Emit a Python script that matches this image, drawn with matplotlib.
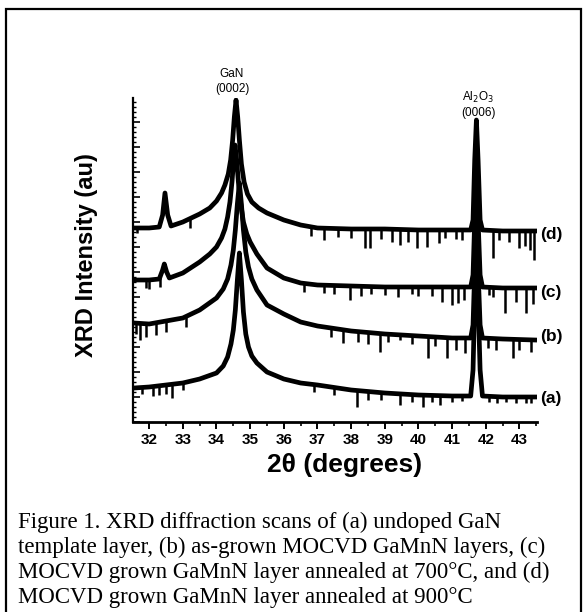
import numpy as np
import matplotlib
matplotlib.use("Agg")
import matplotlib.pyplot as plt
from matplotlib.patches import Rectangle
from matplotlib.ticker import MultipleLocator

# XRD scans (intensity in arbitrary units, curves already offset)
x_d = [31.55, 32.0, 32.3, 32.4, 32.47, 32.55, 32.65, 33.0, 33.5, 33.8, 34.0, 34.15, 34.25,
       34.35, 34.42, 34.48, 34.53, 34.58, 34.63, 34.68, 34.74, 34.82, 34.92, 35.05, 35.25,
       35.5, 36.0, 36.5, 37.0, 38.0, 39.0, 40.0, 41.0, 41.55, 41.62, 41.67, 41.72, 41.77,
       41.83, 41.9, 42.5, 43.45]
y_d = [194, 194, 195, 207, 229, 207, 196, 200, 208, 214, 221, 229, 237,
       248, 262, 282, 305, 322, 305, 282, 258, 240, 228, 220, 214,
       209, 202, 197, 194, 193, 193, 192, 192, 192, 202, 262, 302, 262,
       202, 192, 191, 191]

x_c = [31.55, 32.0, 32.3, 32.4, 32.45, 32.52, 32.6, 33.0, 33.5, 33.8, 34.0, 34.15, 34.25,
       34.33, 34.4, 34.46, 34.51, 34.55, 34.6, 34.65, 34.72, 34.8, 34.9, 35.0, 35.2, 35.5,
       36.0, 36.5, 37.0, 38.0, 39.0, 40.0, 41.0, 41.55, 41.62, 41.67, 41.72, 41.77, 41.83,
       41.9, 42.5, 43.45]
y_c = [142, 142, 143, 152, 158, 150, 144, 149, 160, 168, 175, 184, 193,
       205, 220, 240, 262, 277, 262, 240, 218, 200, 188, 180, 168, 154,
       144, 139, 137, 136, 135, 135, 135, 135, 147, 202, 252, 202, 147,
       135, 134, 134]

x_b = [31.55, 32.0, 33.0, 33.5, 34.0, 34.2, 34.33, 34.43, 34.5, 34.56, 34.62, 34.68, 34.74,
       34.8, 34.87, 34.95, 35.05, 35.2, 35.5, 36.0, 36.5, 37.0, 38.0, 39.0, 40.0, 41.0,
       41.55, 41.62, 41.67, 41.72, 41.77, 41.83, 41.9, 42.5, 43.45]
y_b = [99, 98, 104, 112, 124, 133, 143, 157, 172, 192, 218, 239, 218,
       192, 170, 155, 143, 132, 117, 108, 100, 96, 91, 88, 86, 84,
       84, 97, 152, 207, 152, 97, 84, 83, 82]

x_a = [31.55, 32.0, 33.0, 33.5, 34.0, 34.2, 34.33, 34.43, 34.5, 34.56, 34.62, 34.68, 34.74,
       34.8, 34.87, 34.95, 35.05, 35.2, 35.5, 36.0, 36.5, 37.0, 38.0, 39.0, 40.0, 41.0,
       41.55, 41.62, 41.67, 41.72, 41.77, 41.83, 41.9, 42.5, 43.45]
y_a = [34, 35, 39, 43, 49, 56, 65, 78, 92, 112, 142, 169, 142,
       110, 88, 75, 66, 59, 50, 43, 39, 37, 32, 29, 27, 26,
       26, 52, 122, 167, 122, 52, 26, 25, 25]

# downward noise spikes: position and lowest value
spike_x_d = [31.64, 33.2, 36.8, 37.2, 37.6, 38.0, 38.41, 38.56, 38.9, 39.2, 39.45, 39.7, 39.95,
             40.25, 40.6, 40.8, 41.1, 41.3, 42.2, 42.4, 42.7, 43.0, 43.15, 43.3, 43.42]
spike_y_d = [189, 194, 186, 182, 185, 184, 174, 174, 183, 180, 177, 180, 174,
             175, 179, 184, 183, 182, 164, 182, 180, 174, 176, 172, 162]
spike_x_c = [31.9, 32.0, 32.33, 36.6, 37.2, 37.5, 37.96, 38.3, 38.6, 39.0, 39.4, 39.8, 40.0,
             40.4, 40.7, 40.99, 41.17, 41.35, 42.1, 42.2, 42.56, 42.9, 43.2, 43.4]
spike_y_c = [134, 133, 135, 130, 129, 128, 122, 126, 128, 127, 125, 128, 126,
             126, 120, 117, 119, 122, 127, 125, 109, 120, 109, 118]
spike_x_b = [31.6, 31.73, 31.9, 32.2, 32.5, 33.1, 37.4, 37.76, 38.2, 38.5, 38.85, 39.1, 39.45,
             39.8, 40.28, 40.5, 40.84, 41.1, 41.38, 42.05, 42.3, 42.8, 43.0, 43.35]
spike_y_b = [88, 82, 85, 87, 90, 95, 85, 79, 80, 78, 70, 80, 82,
             78, 64, 76, 64, 72, 69, 74, 72, 64, 72, 70]
spike_x_a = [31.8, 32.1, 32.3, 32.5, 32.68, 33.0, 36.9, 37.5, 38.17, 38.5, 38.9, 39.45, 39.8,
             40.13, 40.4, 40.63, 41.0, 41.3, 42.1, 42.33, 42.6, 42.9, 43.2, 43.35]
spike_y_a = [28, 26, 27, 28, 24, 32, 30, 27, 15, 22, 22, 17, 20,
             15, 20, 17, 20, 21, 20, 19, 20, 19, 19, 19]

curve_labels = ['(a)', '(b)', '(c)', '(d)']
label_y = [24, 86, 130, 187]

caption = [
    "Figure 1. XRD diffraction scans of (a) undoped GaN",
    "template layer, (b) as-grown MOCVD GaMnN layers, (c)",
    "MOCVD grown GaMnN layer annealed at 700\u00b0C, and (d)",
    "MOCVD grown GaMnN layer annealed at 900\u00b0C",
]

SANS = 'Liberation Sans'
SERIF = 'Liberation Serif'

fig = plt.figure(figsize=(5.83, 6.12), dpi=100)
ax = fig.add_axes([133 / 583, 1 - 422 / 612, 404 / 583, 324 / 612])

traces = [(x_a, y_a, spike_x_a, spike_y_a), (x_b, y_b, spike_x_b, spike_y_b),
          (x_c, y_c, spike_x_c, spike_y_c), (x_d, y_d, spike_x_d, spike_y_d)]
for xs, ys, sx, sy in traces:
    ax.plot(xs, ys, color='black', lw=3.4, solid_joinstyle='round')
    top = np.interp(sx, xs, ys)
    ax.vlines(sx, sy, top, color='black', lw=1.8)

ax.set_xlim(31.52, 43.52)
ax.set_ylim(0, 324)

for s in ['top', 'right']:
    ax.spines[s].set_visible(False)
ax.spines['left'].set_linewidth(1.6)
ax.spines['bottom'].set_linewidth(2.0)

ax.xaxis.set_major_locator(MultipleLocator(1))
ax.xaxis.set_minor_locator(MultipleLocator(0.5))
ax.yaxis.set_major_locator(MultipleLocator(25))
ax.yaxis.set_minor_locator(MultipleLocator(5))
ax.tick_params(axis='x', which='major', direction='out', length=5, width=1.4,
               labelsize=11, pad=3)
ax.tick_params(axis='x', which='minor', direction='out', length=3, width=1.2)
ax.tick_params(axis='y', which='major', direction='in', length=5, width=1.2, labelleft=False)
ax.tick_params(axis='y', which='minor', direction='in', length=2.5, width=1.0)
for lab in ax.get_xticklabels():
    lab.set_fontfamily(SANS)
    lab.set_fontweight('bold')

ax.set_xlabel('2\u03b8 (degrees)', fontsize=19, fontweight='bold', family=SANS, va='center')
ax.xaxis.set_label_coords((345 - 133) / 404, (422 - 465) / 324)
ax.set_ylabel('XRD Intensity (au)', fontsize=17, fontweight='bold', family=SANS, va='center')
ax.yaxis.set_label_coords((87 - 133) / 404, (422 - 255) / 324)

for lab, ly in zip(curve_labels, label_y):
    ax.text(43.6, ly, lab, fontsize=12.5, fontweight='bold', family=SANS,
            ha='left', va='center', clip_on=False)

ax.text(34.46, 348, 'GaN', fontsize=8.5, family=SANS, ha='center', va='center', clip_on=False)
ax.text(34.46, 333, '(0002)', fontsize=8.5, family=SANS, ha='center', va='center', clip_on=False)
ax.text(41.78, 325, 'Al$_2$O$_3$', fontsize=8.5, family=SANS, ha='center', va='center', clip_on=False)
ax.text(41.78, 309, '(0006)', fontsize=8.5, family=SANS, ha='center', va='center', clip_on=False)

for i, line in enumerate(caption):
    fig.text(18 / 583, 1 - (522 + 25 * i) / 612, line, fontsize=16.5, family=SERIF,
             ha='left', va='center')

fig.patches.append(Rectangle((6 / 583, -0.02), 575 / 583, 1 - 9 / 612 + 0.02,
                             transform=fig.transFigure, fill=False,
                             edgecolor='black', lw=1.6))

fig.savefig('out.png', dpi=100)
